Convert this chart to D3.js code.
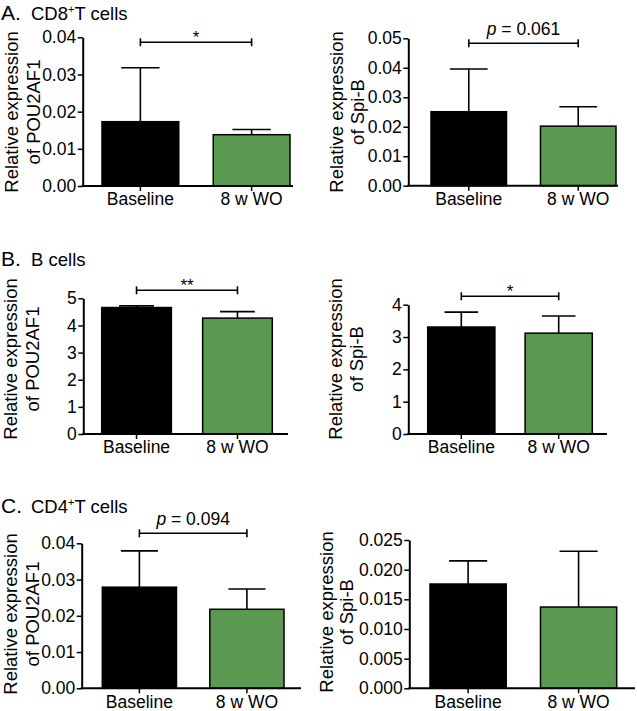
<!DOCTYPE html>
<html>
<head>
<meta charset="utf-8">
<script src="https://cdn.jsdelivr.net/npm/d3@7"></script>
<style>
  html, body { margin: 0; padding: 0; background: #fff; }
  svg { display: block; font-family: "Liberation Sans", Arial, Helvetica, sans-serif; }
</style>
</head>
<body>
<svg id="chart" width="637" height="711"></svg>
<script>
// ---- data ----
const categories = ["Baseline", "8 w WO"];
const barColors = ["#000000", "#5a9a50"];

const cd8Pou = [0.0173, 0.0138];
const cd8PouErr = [0.0145, 0.0014];
const cd8Spi = [0.0251, 0.0202];
const cd8SpiErr = [0.0145, 0.0066];

const bPou = [4.66, 4.27];
const bPouErr = [0.06, 0.24];
const bSpi = [3.31, 3.12];
const bSpiErr = [0.46, 0.53];

const cd4Pou = [0.0279, 0.0218];
const cd4PouErr = [0.0100, 0.0056];
const cd4Spi = [0.01758, 0.0137];
const cd4SpiErr = [0.0039, 0.0094];

const ticksA1 = [0, 0.01, 0.02, 0.03, 0.04];
const ticksA2 = [0, 0.01, 0.02, 0.03, 0.04, 0.05];
const ticksB1 = [0, 1, 2, 3, 4, 5];
const ticksB2 = [0, 1, 2, 3, 4];
const ticksC1 = [0, 0.01, 0.02, 0.03, 0.04];
const ticksC2 = [0, 0.005, 0.010, 0.015, 0.020, 0.025];

const sigA1 = "*";
const sigA2 = "p = 0.061";
const sigB1 = "**";
const sigB2 = "*";
const sigC1 = "p = 0.094";

const rowLetters = ["A.", "B.", "C."];
const rowNames = [["CD8", "+", "T cells"], ["B cells"], ["CD4", "+", "T cells"]];
const genes = ["of POU2AF1", "of Spi-B"];

// ---- layout ----
const panels = [
  { vals: cd8Pou, errs: cd8PouErr, ticks: ticksA1, fmt: ".2f", gene: genes[0], sig: sigA1,
    ax: 82.7, yTop: 37.3, y0: 186, bx: [102, 290], axEnd: 293, labelC: 112, lo: [65, 43], sigY: 42.3 },
  { vals: cd8Spi, errs: cd8SpiErr, ticks: ticksA2, fmt: ".2f", gene: genes[1], sig: sigA2,
    ax: 408.3, yTop: 38.3, y0: 185.7, bx: [431, 616], axEnd: 618, labelC: 112, lo: [65, 44], sigY: 43.3 },
  { vals: bPou, errs: bPouErr, ticks: ticksB1, fmt: "d", gene: genes[0], sig: sigB1,
    ax: 83.3, yTop: 298.3, y0: 434, bx: [101.7, 272.3], axEnd: 288, labelC: 359, lo: [66, 44], sigY: 290.3 },
  { vals: bSpi, errs: bSpiErr, ticks: ticksB2, fmt: "d", gene: genes[1], sig: sigB2,
    ax: 408.3, yTop: 304.7, y0: 434, bx: [427.7, 592.3], axEnd: 607, labelC: 359, lo: [66.5, 45], sigY: 296.3 },
  { vals: cd4Pou, errs: cd4PouErr, ticks: ticksC1, fmt: ".2f", gene: genes[0], sig: sigC1,
    ax: 81.7, yTop: 543.3, y0: 688.3, bx: [102.3, 284], axEnd: 301, labelC: 614, lo: [65, 43], sigY: 533.3 },
  { vals: cd4Spi, errs: cd4SpiErr, ticks: ticksC2, fmt: ".3f", gene: genes[1], sig: null,
    ax: 409.3, yTop: 540, y0: 688.3, bx: [430, 616.7], axEnd: 635, labelC: 612, lo: [76, 56], sigY: 0 }
];
const rowTitleY = [20, 266, 513];

const svg = d3.select("#chart");
svg.append("rect").attr("width", 637).attr("height", 711).attr("fill", "#fff");

// row titles
rowLetters.forEach((L, i) => {
  svg.append("text").attr("x", 1).attr("y", rowTitleY[i])
    .attr("font-size", 21).attr("fill", "#000").text(L);
  const parts = rowNames[i];
  const t2 = svg.append("text").attr("x", 31).attr("y", rowTitleY[i])
    .attr("font-size", 18.5).attr("fill", "#000");
  if (parts.length === 3) {
    t2.append("tspan").text(parts[0]);
    t2.append("tspan").attr("font-size", 11).attr("dy", -7).text(parts[1]);
    t2.append("tspan").attr("dy", 7).text(parts[2]);
  } else {
    t2.append("tspan").text(parts[0]);
  }
});

panels.forEach(p => {
  const g = svg.append("g");
  const domMax = p.ticks[p.ticks.length - 1];
  const y = d3.scaleLinear().domain([0, domMax]).range([p.y0, p.yTop]);
  const x = d3.scaleBand().domain(categories).range(p.bx).paddingInner(0.31).paddingOuter(0);
  const bw = x.bandwidth();

  // bars
  g.selectAll("rect.bar").data(categories).enter().append("rect")
    .attr("x", d => x(d)).attr("width", bw)
    .attr("y", (d, i) => y(p.vals[i]))
    .attr("height", (d, i) => p.y0 - y(p.vals[i]))
    .attr("fill", (d, i) => barColors[i])
    .attr("stroke", "#000").attr("stroke-width", 1.5);

  // error bars (upper)
  categories.forEach((c, i) => {
    const cx = x(c) + bw / 2;
    const top = y(p.vals[i] + p.errs[i]);
    g.append("line").attr("x1", cx).attr("x2", cx)
      .attr("y1", y(p.vals[i])).attr("y2", top)
      .attr("stroke", "#000").attr("stroke-width", 1.6);
    g.append("line").attr("x1", cx - bw * 0.25).attr("x2", cx + bw * 0.25)
      .attr("y1", top).attr("y2", top)
      .attr("stroke", "#000").attr("stroke-width", 1.6);
  });

  // y axis
  const fmt = d3.format(p.fmt);
  const ya = g.append("g").attr("transform", `translate(${p.ax},0)`)
    .call(d3.axisLeft(y).tickValues(p.ticks).tickFormat(fmt).tickSize(5).tickSizeOuter(0).tickPadding(1.5));
  ya.select(".domain").attr("stroke-width", 2).attr("stroke", "#000");
  ya.selectAll(".tick line").attr("stroke-width", 1.5).attr("stroke", "#000");
  ya.selectAll(".tick text").attr("font-size", 17.5).attr("fill", "#000")
    .attr("font-family", "Liberation Sans, Arial, sans-serif");

  // x axis
  g.append("line").attr("x1", p.ax - 1).attr("x2", p.axEnd)
    .attr("y1", p.y0).attr("y2", p.y0).attr("stroke", "#000").attr("stroke-width", 2);
  const xa = g.append("g").attr("transform", `translate(0,${p.y0})`)
    .call(d3.axisBottom(x).tickSize(5).tickSizeOuter(0).tickPadding(2));
  xa.select(".domain").remove();
  xa.selectAll(".tick line").attr("stroke-width", 1.5).attr("stroke", "#000");
  xa.selectAll(".tick text").attr("font-size", 17.5).attr("fill", "#000")
    .attr("font-family", "Liberation Sans, Arial, sans-serif");

  // y label
  g.append("text").attr("transform", `translate(${p.ax - p.lo[0]},${p.labelC}) rotate(-90)`)
    .attr("text-anchor", "middle").attr("font-size", 18.5).attr("fill", "#000")
    .text("Relative expression");
  g.append("text").attr("transform", `translate(${p.ax - p.lo[1]},${p.labelC}) rotate(-90)`)
    .attr("text-anchor", "middle").attr("font-size", 18.5).attr("fill", "#000")
    .text(p.gene);

  // significance bracket
  if (p.sig) {
    const x1 = x(categories[0]) + bw / 2, x2 = x(categories[1]) + bw / 2;
    g.append("line").attr("x1", x1).attr("x2", x2).attr("y1", p.sigY).attr("y2", p.sigY)
      .attr("stroke", "#000").attr("stroke-width", 1.6);
    [x1, x2].forEach(xx => g.append("line").attr("x1", xx).attr("x2", xx)
      .attr("y1", p.sigY - 4).attr("y2", p.sigY + 4).attr("stroke", "#000").attr("stroke-width", 1.6));
    const cx = (x1 + x2) / 2;
    if (p.sig.startsWith("p")) {
      const t = g.append("text").attr("x", cx).attr("y", p.sigY - 8)
        .attr("text-anchor", "middle").attr("font-size", 17.5).attr("fill", "#000");
      t.append("tspan").attr("font-style", "italic").text("p");
      t.append("tspan").text(p.sig.slice(1));
    } else {
      g.append("text").attr("x", cx).attr("y", p.sigY + 1)
        .attr("text-anchor", "middle").attr("font-size", 17).attr("fill", "#000")
        .text(p.sig);
    }
  }
});
</script>
</body>
</html>
